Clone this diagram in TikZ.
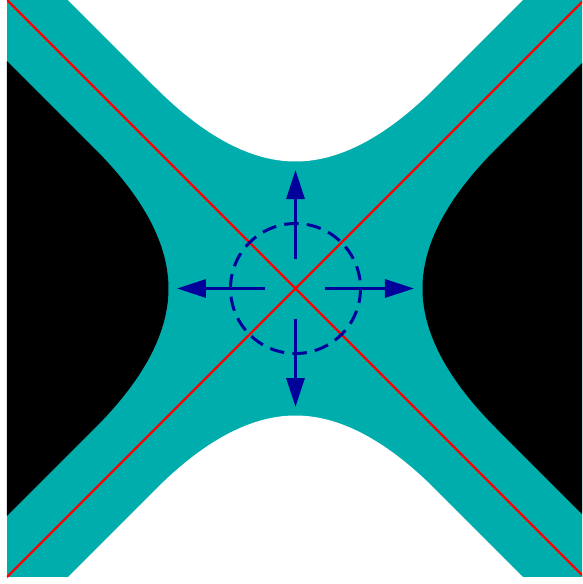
\documentclass[tikz,border=0pt]{standalone}
\usetikzlibrary{arrows.meta}
\definecolor{tealbg}{RGB}{0,173,173}
\definecolor{navyblue}{RGB}{0,0,155}
\begin{document}
\begin{tikzpicture}[x=1pt,y=1pt,
  redline/.style={red, line width=2.4pt},
  bluearrow/.style={navyblue, line width=3pt, -{Triangle[length=29pt,width=18pt]}},
  dashcircle/.style={navyblue, line width=3pt, dash pattern=on 14.5pt off 8.19pt, dash phase=14.5pt}]
\useasboundingbox (-295.5,-295.5) rectangle (286.5,288.5);
\begin{scope}
\clip (-288.5,-288.5) rectangle (286.5,288.5);
\fill[tealbg] (-288.5,-288.5) rectangle (288.5,288.5);
% right black region
\fill[black] (400,-300) -- (361,-300) -- (201,-140)
  .. controls (151.67,-90.67) and (127,-44) .. (127,0)
  .. controls (127,44) and (151.67,90.67) .. (201,140)
  -- (361,300) -- (400,300) -- cycle;
% left black region
\fill[black] (-400,-300) -- (-361,-300) -- (-201,-140)
  .. controls (-151.67,-90.67) and (-127,-44) .. (-127,0)
  .. controls (-127,44) and (-151.67,90.67) .. (-201,140)
  -- (-361,300) -- (-400,300) -- cycle;
% top white region
\fill[white] (-300,400) -- (-300,361) -- (-140,201)
  .. controls (-90.67,151.67) and (-44,127) .. (0,127)
  .. controls (44,127) and (90.67,151.67) .. (140,201)
  -- (300,361) -- (300,400) -- cycle;
% bottom white region
\fill[white] (-300,-400) -- (-300,-361) -- (-140,-201)
  .. controls (-90.67,-151.67) and (-44,-127) .. (0,-127)
  .. controls (44,-127) and (90.67,-151.67) .. (140,-201)
  -- (300,-361) -- (300,-400) -- cycle;
% red diagonals
\coordinate (tl) at (-288.5,288.5);
\coordinate (br) at (288.5,-288.5);
\coordinate (bl) at (-288.5,-288.5);
\coordinate (tr) at (288.5,288.5);
\draw[redline] (tl) -- (br);
\draw[redline] (bl) -- (tr);
\end{scope}
% dashed circle and arrows
\coordinate (O) at (0,0);
\draw[dashcircle] (O) circle[radius=65];
\coordinate (rs) at (30,0);   \coordinate (re) at (118.5,0);
\coordinate (ls) at (-30,0);  \coordinate (le) at (-118.5,0);
\coordinate (us) at (0,30);   \coordinate (ue) at (0,118.5);
\coordinate (ds) at (0,-30);  \coordinate (de) at (0,-118.5);
\draw[bluearrow] (rs) -- (re);
\draw[bluearrow] (ls) -- (le);
\draw[bluearrow] (us) -- (ue);
\draw[bluearrow] (ds) -- (de);
\end{tikzpicture}
\end{document}
